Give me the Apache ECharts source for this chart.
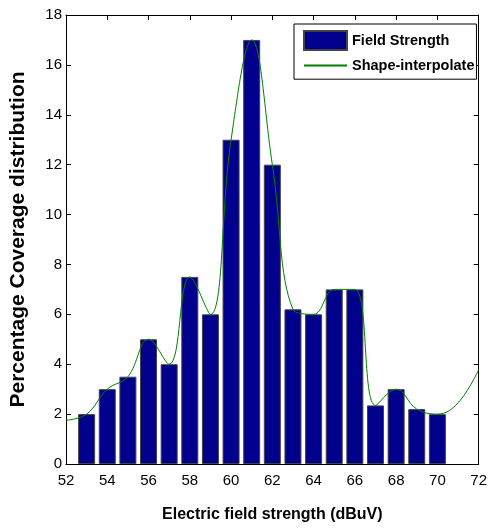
<!DOCTYPE html>
<html>
<head>
<meta charset="utf-8">
<script src="https://cdn.jsdelivr.net/npm/echarts@6/dist/echarts.min.js"></script>
<style>html,body{margin:0;padding:0;background:#fff;}#c{width:490px;height:531px;}</style>
</head>
<body>
<div id="c"></div>
<script>
// Bar data (histogram)
const barX = [53, 54, 55, 56, 57, 58, 59, 60, 61, 62, 63, 64, 65, 66, 67, 68, 69, 70];
const barY = [2, 3, 3.5, 5, 4, 7.5, 6, 13, 17, 12, 6.2, 6, 7, 7, 2.35, 3, 2.2, 2];
// Interpolated shape curve at integer positions
const curveX = [52, 53, 54, 55, 56, 57, 58, 59, 60, 61, 62, 63, 64, 65, 66, 67, 68, 69, 70, 71, 72];
const curveY = [1.75, 2, 3, 3.5, 5, 4, 7.5, 6, 13, 17, 12, 6.2, 6, 7, 7, 2.35, 3, 2.2, 2, 2.45, 3.78];
const xTicks = [52, 72, 2];
const yTicks = [0, 18, 2];

const font = 'Liberation Sans, Arial, sans-serif';
const chart = echarts.init(document.getElementById('c'), null, {renderer: 'canvas'});
const barData = barX.map((x, i) => [x, barY[i]]);
const curveData = curveX.map((x, i) => [x, curveY[i]]);

const axisCommon = {
  axisLine: {show: true, onZero: false, lineStyle: {color: '#000', width: 1}},
  axisTick: {show: true, inside: true, length: 5, lineStyle: {color: '#000'}},
  splitLine: {show: false}
};

chart.setOption({
  backgroundColor: '#fff',
  animation: false,
  grid: {left: 66, right: 8, top: 15, bottom: 67, containLabel: false},
  xAxis: [
    Object.assign({
      type: 'value', min: xTicks[0], max: xTicks[1], interval: xTicks[2], position: 'bottom',
      name: 'Electric field strength (dBuV)', nameLocation: 'middle', nameGap: 43,
      nameTextStyle: {fontFamily: font, fontWeight: 'bold', fontSize: 16, color: '#000'},
      axisLabel: {fontFamily: font, fontSize: 15, color: '#000', margin: 9}
    }, axisCommon),
    Object.assign({
      type: 'value', min: xTicks[0], max: xTicks[1], interval: xTicks[2], position: 'top',
      axisLabel: {show: false}
    }, axisCommon)
  ],
  yAxis: [
    Object.assign({
      type: 'value', min: yTicks[0], max: yTicks[1], interval: yTicks[2], position: 'left',
      name: 'Percentage Coverage distribution', nameLocation: 'middle', nameGap: 37,
      nameTextStyle: {fontFamily: font, fontWeight: 'bold', fontSize: 21, color: '#000'},
      axisLabel: {fontFamily: font, fontSize: 15, color: '#000', margin: 4}
    }, axisCommon),
    Object.assign({
      type: 'value', min: yTicks[0], max: yTicks[1], interval: yTicks[2], position: 'right',
      axisLabel: {show: false}
    }, axisCommon)
  ],
  legend: {
    orient: 'vertical', left: 294, top: 24,
    padding: [6, 2, 6, 9], itemGap: 7, itemWidth: 43, itemHeight: 19,
    borderColor: '#000', borderWidth: 1, backgroundColor: '#fff', borderRadius: 0,
    textStyle: {fontFamily: font, fontWeight: 'bold', fontSize: 14.5, color: '#000'},
    data: [
      {name: 'Field Strength', icon: 'rect'},
      {name: 'Shape-interpolate', itemStyle: {opacity: 0}}
    ]
  },
  series: [
    {
      name: 'Field Strength', type: 'bar', xAxisIndex: 0, yAxisIndex: 0,
      data: barData, barWidth: 17,
      itemStyle: {color: '#00008c', borderColor: '#444', borderWidth: 1}
    },
    {
      name: 'Shape-interpolate', type: 'line', xAxisIndex: 0, yAxisIndex: 0,
      data: curveData, smooth: 0.4, symbol: 'none',
      lineStyle: {color: '#008000', width: 1},
      itemStyle: {color: '#008000'}, z: 5
    }
  ]
});
</script>
</body>
</html>
